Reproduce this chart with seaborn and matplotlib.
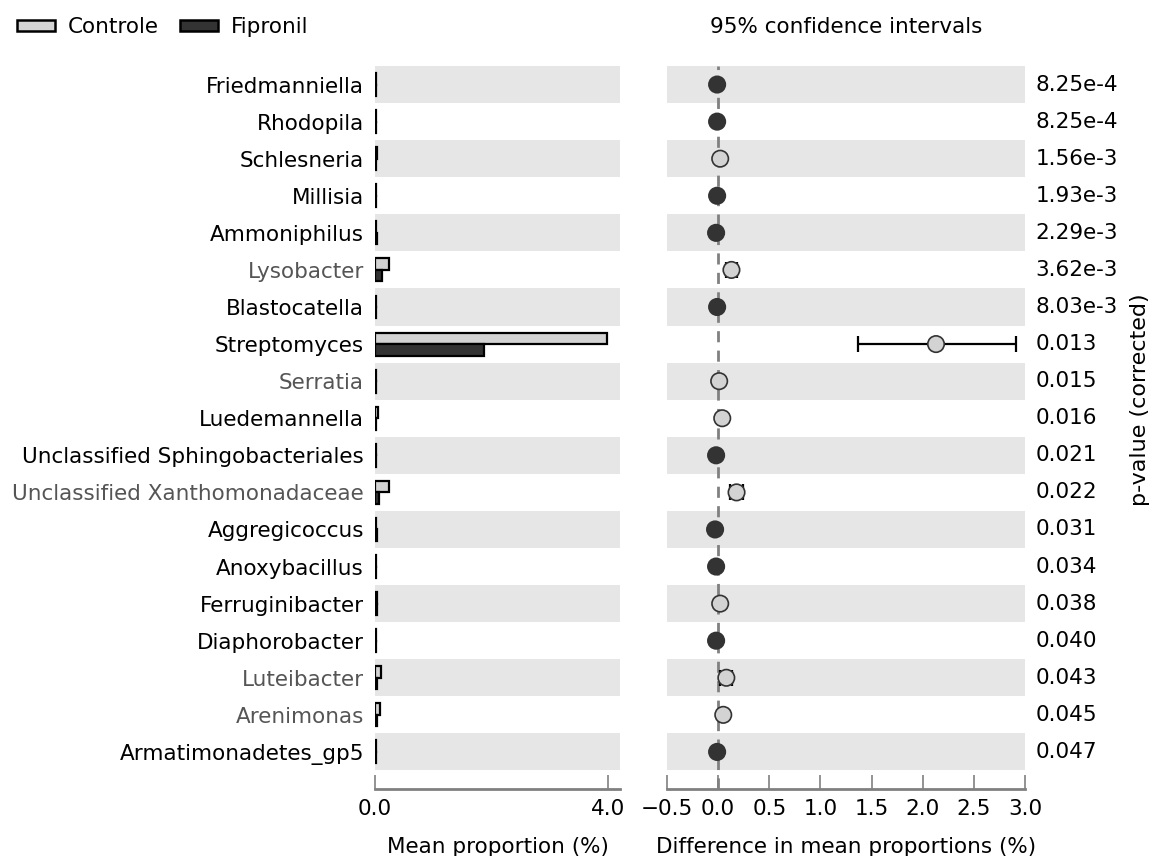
import numpy as np
import pandas as pd
import matplotlib
matplotlib.use("Agg")
import matplotlib.pyplot as plt
import seaborn as sns
from matplotlib.patches import Patch

genera = ["Friedmanniella", "Rhodopila", "Schlesneria", "Millisia", "Ammoniphilus",
          "Lysobacter", "Blastocatella", "Streptomyces", "Serratia", "Luedemannella",
          "Unclassified Sphingobacteriales", "Unclassified Xanthomonadaceae",
          "Aggregicoccus", "Anoxybacillus", "Ferruginibacter", "Diaphorobacter",
          "Luteibacter", "Arenimonas", "Armatimonadetes_gp5"]
controle = [0.01, 0.01, 0.03, 0.01, 0.02, 0.24, 0.01, 3.98, 0.02, 0.05,
            0.01, 0.24, 0.02, 0.01, 0.04, 0.01, 0.10, 0.08, 0.02]
fipronil = [0.02, 0.02, 0.01, 0.02, 0.04, 0.12, 0.02, 1.87, 0.01, 0.02,
            0.02, 0.07, 0.04, 0.02, 0.03, 0.02, 0.04, 0.04, 0.02]
diff = [-0.01, -0.01, 0.02, -0.01, -0.02, 0.13, -0.01, 2.13, 0.01, 0.04,
        -0.02, 0.18, -0.03, -0.02, 0.02, -0.02, 0.08, 0.05, -0.01]
ci_low = [-0.02, -0.02, 0.01, -0.02, -0.04, 0.08, -0.02, 1.37, 0.0, 0.02,
          -0.03, 0.12, -0.05, -0.03, 0.01, -0.03, 0.02, 0.02, -0.02]
ci_high = [0.0, 0.0, 0.03, 0.0, 0.0, 0.18, 0.0, 2.91, 0.02, 0.06,
           -0.01, 0.24, -0.01, -0.01, 0.03, -0.01, 0.14, 0.08, 0.0]
pvalues = ["8.25e-4", "8.25e-4", "1.56e-3", "1.93e-3", "2.29e-3", "3.62e-3", "8.03e-3",
           "0.013", "0.015", "0.016", "0.021", "0.022", "0.031", "0.034", "0.038",
           "0.040", "0.043", "0.045", "0.047"]
grey_labels = ["Lysobacter", "Serratia", "Unclassified Xanthomonadaceae", "Luteibacter", "Arenimonas"]
groups = ["Controle", "Fipronil"]

C_LIGHT = "#d3d3d3"
C_DARK = "#333333"
BAND = "#e6e6e6"
FS = 15.5

sns.set_style("white")
plt.rcParams['font.family'] = ['DejaVu Sans']
plt.rcParams['text.color'] = 'black'
plt.rcParams['xtick.color'] = 'black'
plt.rcParams['ytick.color'] = 'black'
plt.rcParams['axes.labelcolor'] = 'black'

fig = plt.figure(figsize=(11.52, 8.56), dpi=100)
bottom = 1 - 789 / 856
top = 1 - 66 / 856
axL = fig.add_axes([375 / 1152, bottom, (620 - 375) / 1152, top - bottom])
axR = fig.add_axes([667 / 1152, bottom, (1025 - 667) / 1152, top - bottom])

n = len(genera)
for ax in (axL, axR):
    for i in range(0, n, 2):
        ax.axhspan(i - 0.5, i + 0.5, color=BAND, lw=0, zorder=0)

# left: bar plot
df = pd.DataFrame({
    "genus": genera * 2,
    "group": [groups[0]] * n + [groups[1]] * n,
    "value": controle + fipronil,
})
sns.barplot(data=df, x="value", y="genus", hue="group", order=genera, hue_order=groups,
            palette=[C_LIGHT, C_DARK], orient="h", width=0.62, edgecolor="black",
            linewidth=1.6, saturation=1, legend=False, ax=axL, zorder=3)
axL.set_xlim(0, 4.2)
axL.set_ylim(19, -0.5)
axL.set_xticks([0, 4.0])
axL.set_xticklabels(["0.0", "4.0"])
axL.set_ylabel("")
axL.set_xlabel("Mean proportion (%)", fontsize=FS, labelpad=13)
axL.tick_params(axis="y", length=0, pad=8, labelsize=FS)
for lab in axL.get_yticklabels():
    if lab.get_text() in grey_labels:
        lab.set_color("#555555")

# right: differences with CIs
pos = np.arange(n)
dd = pd.DataFrame({"genus": genera, "pos": pos, "diff": diff,
                   "lo": ci_low, "hi": ci_high})
dd["sign"] = np.where(dd["diff"] >= 0, "Controle", "Fipronil")
axR.axvline(0, color="#808080", lw=2, ls=(0, (4, 3)), zorder=1)
axR.errorbar(dd["diff"], dd["pos"],
             xerr=[dd["diff"] - dd["lo"], dd["hi"] - dd["diff"]],
             fmt="none", ecolor="black", elinewidth=1.6, capsize=6, capthick=1.6, zorder=3)
sns.scatterplot(data=dd, x="diff", y="pos", hue="sign", hue_order=groups,
                palette=[C_LIGHT, C_DARK], s=140, edgecolor="#333333", linewidth=1.2,
                legend=False, ax=axR, zorder=4)
axR.set_xlim(-0.5, 3.0)
axR.set_ylim(19, -0.5)
axR.set_yticks([])
axR.set_ylabel("")
axR.set_xticks(np.arange(-0.5, 3.01, 0.5))
axR.set_xticklabels([f"{v:.1f}".replace("-", "\u2212") for v in np.arange(-0.5, 3.01, 0.5)])
axR.set_xlabel("Difference in mean proportions (%)", fontsize=FS, labelpad=13)

for i, p in enumerate(pvalues):
    axR.text(1.03, i, p, transform=axR.get_yaxis_transform(), ha="left", va="center",
             fontsize=FS)

for ax in (axL, axR):
    for s in ("left", "right", "top"):
        ax.spines[s].set_visible(False)
    ax.spines["bottom"].set_color("#808080")
    ax.spines["bottom"].set_linewidth(2)
    ax.tick_params(axis="x", direction="in", length=10, width=1.2, color="#808080",
                   pad=7, labelsize=FS, bottom=True)
    ax.set_facecolor("white")

fig.text(846 / 1152, 1 - 27 / 856, "95% confidence intervals", ha="center", va="center",
         fontsize=FS)
fig.text(1140 / 1152, 1 - 400 / 856, "p-value (corrected)", rotation=90, ha="center",
         va="center", fontsize=16)

handles = [Patch(facecolor=C_LIGHT, edgecolor="black", lw=1.8),
           Patch(facecolor=C_DARK, edgecolor="black", lw=1.8)]
fig.legend(handles, groups, loc="center left", bbox_to_anchor=(17 / 1152, 1 - 27 / 856),
           ncol=2, frameon=False, fontsize=FS, handlelength=1.75, handleheight=0.42,
           columnspacing=1.0, handletextpad=0.6, borderpad=0, borderaxespad=0)

fig.savefig("out.png", dpi=100, facecolor="white")
